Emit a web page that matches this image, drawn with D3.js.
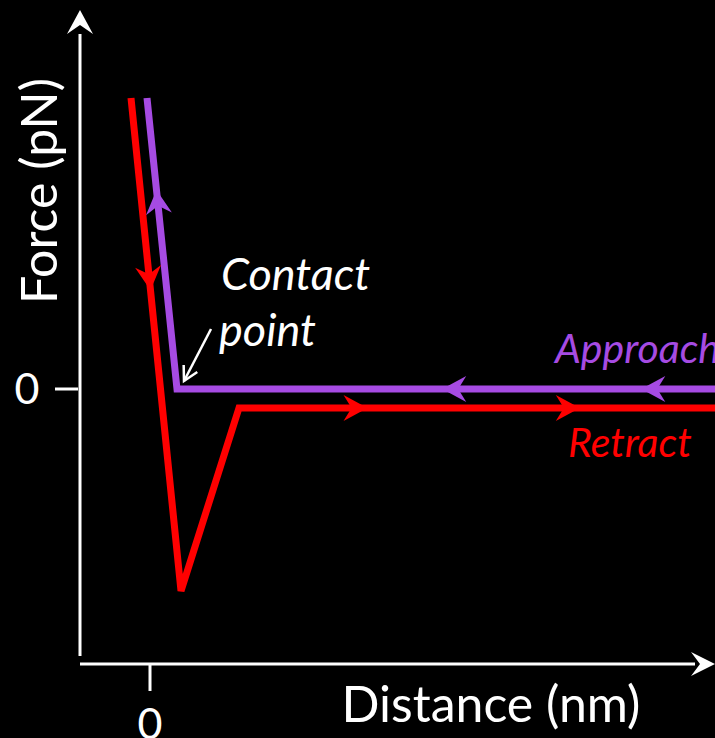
<!DOCTYPE html>
<html>
<head>
<meta charset="utf-8">
<script src="https://cdn.jsdelivr.net/npm/d3@7"></script>
<style>
  html, body { margin: 0; padding: 0; background: #000; }
  svg { display: block; }
  text { font-family: Lato, "Open Sans", sans-serif; }
</style>
</head>
<body>
<script>
// Force–distance curve: approach and retract traces (arbitrary units)
const approachDist  = [56.5, 2.7, -0.3];
const approachForce = [0, 0, 29.1];
const retractDist   = [-1.9, 3.1, 8.9, 56.5];
const retractForce  = [29.1, -20.2, -1.9, -1.9];

// Direction arrows along each trace: segment index and fraction along it
const approachArrows = [{ seg: 0, t: 0.137 }, { seg: 0, t: 0.507 }, { seg: 1, t: 0.684 }];
const retractArrows  = [{ seg: 0, t: 0.39 }, { seg: 2, t: 0.27 }, { seg: 2, t: 0.716 }];

const xTicks = [0];
const yTicks = [0];

const W = 715, H = 738;
const svg = d3.select("body").append("svg").attr("width", W).attr("height", H)
  .style("background", "#000");

const x = d3.scaleLinear().domain([-7, 56.5]).range([80, 715]);
const y = d3.scaleLinear().domain([-27.5, 38]).range([664, 9]);

const purple = "#a64be3";
const red = "#ff0000";

// Axes
const axisG = svg.append("g");
axisG.append("line").attr("x1", x(-7)).attr("x2", x(-7))
  .attr("y1", y(-26.7)).attr("y2", y(35.5))
  .attr("stroke", "#fff").attr("stroke-width", 3);
axisG.append("line").attr("x1", x(-7)).attr("x2", x(54.5))
  .attr("y1", y(-27.5)).attr("y2", y(-27.5))
  .attr("stroke", "#fff").attr("stroke-width", 3);

// Arrowhead: notched chevron pointing along +x before rotation
function arrowHead(g, tx, ty, angle, len, half, notch, color) {
  const p = [[0, 0], [-len, -half], [-len + notch, 0], [-len, half]];
  g.append("path")
    .attr("d", "M" + p.map(q => q.join(",")).join("L") + "Z")
    .attr("fill", color)
    .attr("transform", `translate(${tx},${ty}) rotate(${angle})`);
}
arrowHead(axisG, x(-7), y(37.9), -90, 24, 13, 9, "#fff");
arrowHead(axisG, x(56.5), y(-27.5), 0, 24, 12, 9, "#fff");

// Ticks
xTicks.forEach(v => {
  axisG.append("line").attr("x1", x(v)).attr("x2", x(v))
    .attr("y1", y(-27.5)).attr("y2", y(-27.5) + 27)
    .attr("stroke", "#fff").attr("stroke-width", 3);
  axisG.append("text").attr("x", x(v)).attr("y", y(-27.5) + 75)
    .attr("text-anchor", "middle").attr("fill", "#fff")
    .attr("font-size", 43).text(String(v));
});
yTicks.forEach(v => {
  axisG.append("line").attr("x1", x(-7) - 25).attr("x2", x(-7) - 2)
    .attr("y1", y(v)).attr("y2", y(v))
    .attr("stroke", "#fff").attr("stroke-width", 3);
  axisG.append("text").attr("x", 27).attr("y", y(v) + 15)
    .attr("text-anchor", "middle").attr("fill", "#fff")
    .attr("font-size", 43).text(String(v));
});

// Axis titles
svg.append("text").attr("x", 491).attr("y", 722)
  .attr("text-anchor", "middle").attr("fill", "#fff")
  .attr("font-size", 50).text("Distance (nm)");
svg.append("text")
  .attr("transform", "translate(57,191) rotate(-90)")
  .attr("text-anchor", "middle").attr("fill", "#fff")
  .attr("font-size", 50).text("Force (pN)");

// Traces
const line = d3.line().x(d => x(d[0])).y(d => y(d[1]));
const approach = d3.zip(approachDist, approachForce);
const retract  = d3.zip(retractDist, retractForce);

svg.append("path").datum(approach).attr("d", line)
  .attr("fill", "none").attr("stroke", purple).attr("stroke-width", 7)
  .attr("stroke-linejoin", "miter");
svg.append("path").datum(retract).attr("d", line)
  .attr("fill", "none").attr("stroke", red).attr("stroke-width", 7)
  .attr("stroke-linejoin", "miter");

// Direction arrows along traces
function traceArrows(pts, arrows, color) {
  arrows.forEach(a => {
    const p0 = pts[a.seg], p1 = pts[a.seg + 1];
    const x0 = x(p0[0]), y0 = y(p0[1]), x1 = x(p1[0]), y1 = y(p1[1]);
    const tx = x0 + (x1 - x0) * a.t, ty = y0 + (y1 - y0) * a.t;
    const ang = Math.atan2(y1 - y0, x1 - x0) * 180 / Math.PI;
    arrowHead(svg, tx, ty, ang, 24, 13, 8, color);
  });
}
traceArrows(approach, approachArrows, purple);
traceArrows(retract, retractArrows, red);

// Annotations
svg.append("text").attr("x", 221).attr("y", 290)
  .attr("fill", "#fff").attr("font-size", 45).attr("font-style", "italic")
  .text("Contact");
svg.append("text").attr("x", 219).attr("y", 346)
  .attr("fill", "#fff").attr("font-size", 45).attr("font-style", "italic")
  .text("point");

// Pointer to the contact point
const cp = [x(approachDist[1]), y(approachForce[1])];
svg.append("line").attr("x1", 211).attr("y1", 329)
  .attr("x2", cp[0] + 7).attr("y2", cp[1] - 8)
  .attr("stroke", "#fff").attr("stroke-width", 2.5);
{
  const ang = Math.atan2((cp[1] - 8) - 329, (cp[0] + 7) - 211);
  const tipX = cp[0] + 7, tipY = cp[1] - 8;
  const l = 16, spread = 0.5;
  const pA = [tipX - l * Math.cos(ang - spread), tipY - l * Math.sin(ang - spread)];
  const pB = [tipX - l * Math.cos(ang + spread), tipY - l * Math.sin(ang + spread)];
  svg.append("path")
    .attr("d", `M${pA}L${tipX},${tipY}L${pB}`)
    .attr("fill", "none").attr("stroke", "#fff").attr("stroke-width", 2.5);
}

svg.append("text").attr("x", 555).attr("y", 363)
  .attr("fill", purple).attr("font-size", 41).attr("font-style", "italic")
  .text("Approach");
svg.append("text").attr("x", 568).attr("y", 457)
  .attr("fill", red).attr("font-size", 41).attr("font-style", "italic")
  .text("Retract");
</script>
</body>
</html>
